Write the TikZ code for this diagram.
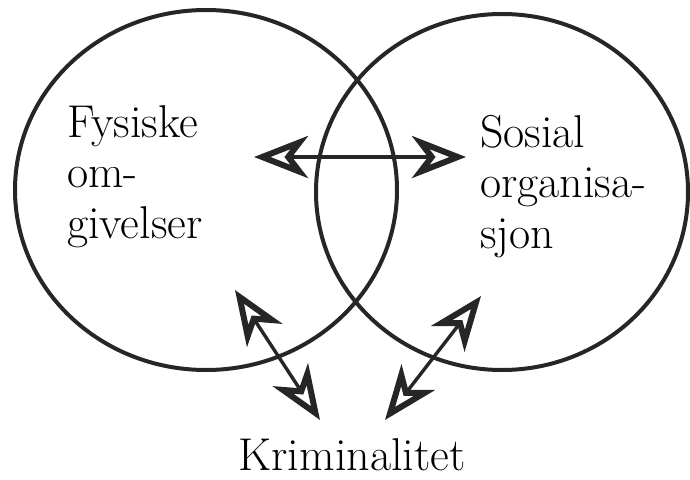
\documentclass[tikz,border=0pt]{standalone}
\usetikzlibrary{shapes.geometric,arrows.meta}
\begin{document}
\begin{tikzpicture}[x=1pt,y=-1pt,
  ring/.style={ellipse,draw=black!85,line width=4pt,inner sep=0pt},
  lbl/.style={inner sep=0pt,align=left,anchor=base west,font=\fontsize{46}{50.5}\selectfont},
  tipx/.tip={Stealth[length=54pt,width=42pt,inset=16pt,fill=white,line width=6pt]},
  dbl/.style={black!85,line width=3.4pt,tipx-tipx}]
\useasboundingbox (0,0) rectangle (690,479);
\node[ring,minimum width=382pt,minimum height=360pt] (L) at (206,190) {};
\node[ring,minimum width=372pt,minimum height=356pt] (R) at (502,192) {};
\node[lbl] (fys) at (67,238) {Fysiske\\om-\\givelser};
\node[lbl] (sos) at (480,248) {Sosial\\organisa-\\sjon};
\node[lbl,anchor=base] (kri) at (352,470) {Kriminalitet};
\coordinate (h1) at (254,157);
\coordinate (h2) at (466,157);
\coordinate (a1) at (235,290);
\coordinate (a2) at (320,420);
\coordinate (b1) at (481,296);
\coordinate (b2) at (385,420);
\draw[dbl] (h1) -- (h2);
\draw[dbl] (a1) -- (a2);
\draw[dbl] (b1) -- (b2);
\end{tikzpicture}
\end{document}
